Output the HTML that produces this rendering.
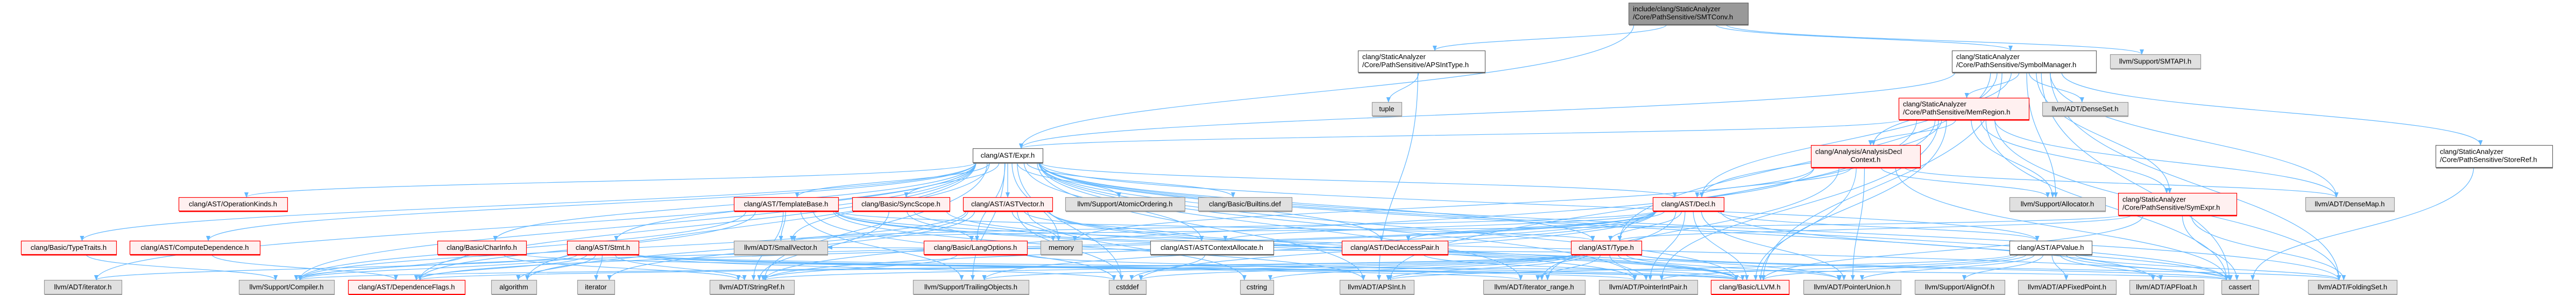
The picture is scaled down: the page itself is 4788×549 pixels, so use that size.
<!DOCTYPE html>
<html><head><meta charset="utf-8"><style>
html,body{margin:0;padding:0;background:#fff;width:4788px;height:549px;overflow:hidden}
svg text{font-family:"Liberation Sans",sans-serif;font-size:13px;fill:#000}
</style></head><body>
<svg id="g" width="4788" height="549" viewBox="0 0 4788 549" xmlns="http://www.w3.org/2000/svg">
<defs><marker id="a" markerWidth="10" markerHeight="8" refX="9" refY="4" orient="auto" markerUnits="userSpaceOnUse"><path d="M0,0 L10,4 L0,8 z" fill="#63b8ff"/></marker></defs>
<g id="edges" fill="none" stroke="#63b8ff" stroke-width="1.2"></g>
<g id="nodes"></g>
</svg>
<script>
var N={
main:[3027,5,3249,45,"d",["include/clang/StaticAnalyzer","/Core/PathSensitive/SMTConv.h"]],
apsT:[2524,94,2760,134,"w",["clang/StaticAnalyzer","/Core/PathSensitive/APSIntType.h"]],
symM:[3628,94,3896,134,"w",["clang/StaticAnalyzer","/Core/PathSensitive/SymbolManager.h"]],
smt:[3922,101,4090,127,"g",["llvm/Support/SMTAPI.h"]],
tuple:[2550,190,2605,215,"g",["tuple"]],
mem:[3529,182,3771,222,"r",["clang/StaticAnalyzer","/Core/PathSensitive/MemRegion.h"]],
dset:[3796,190,3955,215,"g",["llvm/ADT/DenseSet.h"]],
expr:[1808,276,1938,302,"w",["clang/AST/Expr.h"]],
adc:[3366,270,3569,311,"r",["clang/Analysis/AnalysisDecl","Context.h"],1],
store:[4527,270,4744,311,"w",["clang/StaticAnalyzer","/Core/PathSensitive/StoreRef.h"]],
opk:[332,367,534,392,"r",["clang/AST/OperationKinds.h"]],
tb:[1364,367,1558,392,"r",["clang/AST/TemplateBase.h"]],
sync:[1584,367,1765,392,"r",["clang/Basic/SyncScope.h"]],
astv:[1790,367,1956,392,"r",["clang/AST/ASTVector.h"]],
atom:[1980,367,2202,392,"g",["llvm/Support/AtomicOrdering.h"]],
blt:[2227,367,2401,392,"g",["clang/Basic/Builtins.def"]],
decl:[3072,367,3204,392,"r",["clang/AST/Decl.h"]],
alloc:[3735,367,3913,392,"g",["llvm/Support/Allocator.h"]],
syme:[3937,359,4157,400,"r",["clang/StaticAnalyzer","/Core/PathSensitive/SymExpr.h"]],
dmap:[4285,367,4450,392,"g",["llvm/ADT/DenseMap.h"]],
tt:[39,448,216,473,"r",["clang/Basic/TypeTraits.h"]],
cd:[241,448,483,473,"r",["clang/AST/ComputeDependence.h"]],
ci:[813,448,978,473,"r",["clang/Basic/CharInfo.h"]],
stmt:[1054,448,1187,473,"r",["clang/AST/Stmt.h"]],
sv:[1364,448,1538,473,"g",["llvm/ADT/SmallVector.h"]],
lo:[1717,448,1909,473,"r",["clang/Basic/LangOptions.h"]],
memory:[1934,448,2011,473,"g",["memory"]],
aca:[2138,448,2367,473,"w",["clang/AST/ASTContextAllocate.h"]],
dap:[2494,448,2691,473,"r",["clang/AST/DeclAccessPair.h"]],
type:[2920,448,3051,473,"r",["clang/AST/Type.h"]],
apv:[3735,448,3888,473,"w",["clang/AST/APValue.h"]],
itr:[82,521,226,547,"g",["llvm/ADT/iterator.h"]],
comp:[444,521,621,547,"g",["llvm/Support/Compiler.h"]],
df:[647,521,864,547,"r",["clang/AST/DependenceFlags.h"]],
algo:[913,521,997,547,"g",["algorithm"]],
iter:[1073,521,1142,547,"g",["iterator"]],
sref:[1319,521,1476,547,"g",["llvm/ADT/StringRef.h"]],
trail:[1697,521,1912,547,"g",["llvm/Support/TrailingObjects.h"]],
cstddef:[2061,521,2130,547,"g",["cstddef"]],
cstring:[2305,521,2367,547,"g",["cstring"]],
apsint:[2490,521,2628,547,"g",["llvm/ADT/APSInt.h"]],
irange:[2757,521,2946,547,"g",["llvm/ADT/iterator_range.h"]],
pip:[2972,521,3155,547,"g",["llvm/ADT/PointerIntPair.h"]],
llvm:[3180,521,3325,547,"r",["clang/Basic/LLVM.h"]],
pu:[3352,521,3533,547,"g",["llvm/ADT/PointerUnion.h"]],
align:[3559,521,3726,547,"g",["llvm/Support/AlignOf.h"]],
afp:[3751,521,3933,547,"g",["llvm/ADT/APFixedPoint.h"]],
apf:[3958,521,4096,547,"g",["llvm/ADT/APFloat.h"]],
cassert:[4129,521,4198,547,"g",["cassert"]],
fs:[4290,521,4455,547,"g",["llvm/ADT/FoldingSet.h"]]
};
var E={
main:"expr apsT symM smt",
apsT:"tuple apsint",
symM:"mem dset adc store alloc syme dmap expr type decl llvm fs cassert",
mem:"adc expr decl type alloc syme dmap llvm fs cassert pip apsint",
adc:"decl alloc dmap llvm cassert memory pu irange sref",
store:"cassert",
syme:"type llvm cassert fs sv",
expr:"opk tt cd ci stmt tb sync astv atom blt decl type apv dap lo itr comp df algo sref sv trail apsint apf llvm memory cstddef aca irange pip fs cassert",
tb:"comp df sv sref type llvm apsint pu trail cassert cstddef",
sync:"lo memory sref llvm",
astv:"memory cstddef cstring aca llvm pip comp algo iter",
decl:"type dap apv llvm aca trail comp sref sv irange pip pu cassert cstddef df",
type:"llvm pip pu irange apsint fs cassert cstddef cstring comp df sref sv trail",
apv:"llvm afp apf apsint fs pip pu align cassert",
stmt:"comp df algo iter sref irange pip cassert cstddef llvm itr",
ci:"comp sref llvm",
tt:"comp",
cd:"df",
lo:"llvm sref",
aca:"cstddef",
dap:"llvm"
};
var NS="http://www.w3.org/2000/svg";
var ng=document.getElementById("nodes"),eg=document.getElementById("edges");
var st={d:["#999999","#666666"],w:["#ffffff","#666666"],g:["#e0e0e0","#999999"],r:["#fff0f0","#ff0000"]};
function cx(n){return (n[0]+n[2])/2}
for(var s in E){var S=N[s];E[s].split(" ").forEach(function(t,i){var T=N[t];
 var sx,sy,tx,ty,d;
 if(T[1]>S[3]-2){
  sx=cx(S)+(cx(T)-cx(S))*0.08; sx=Math.max(S[0]+6,Math.min(S[2]-6,sx)); sy=S[3];
  tx=cx(T)+Math.max(-25,Math.min(25,(cx(S)-cx(T))*0.05)); ty=T[1];
  var dy=ty-sy;
  d="M"+sx+","+sy+" C"+sx+","+(sy+dy*0.55)+" "+tx+","+(ty-dy*0.45)+" "+tx+","+ty;
 } else {
  sy=S[3]-4; ty=(T[1]+T[3])/2;
  if(cx(T)<cx(S)){sx=S[0];tx=T[2];}else{sx=S[2];tx=T[0];}
  d="M"+sx+","+sy+" C"+((sx+tx)/2)+","+sy+" "+((sx+tx)/2)+","+ty+" "+tx+","+ty;
 }
 var p=document.createElementNS(NS,"path");p.setAttribute("d",d);p.setAttribute("marker-end","url(#a)");eg.appendChild(p);
});}
for(var k in N){var n=N[k],c=st[n[4]];
 var r=document.createElementNS(NS,"rect");r.setAttribute("x",n[0]+.5);r.setAttribute("y",n[1]+.5);r.setAttribute("width",n[2]-n[0]);r.setAttribute("height",n[3]-n[1]);
 r.setAttribute("fill",c[0]);r.setAttribute("stroke",c[1]);r.setAttribute("stroke-width","1.2");ng.appendChild(r);
 var sh=document.createElementNS(NS,"line");sh.setAttribute("x1",n[0]+1);sh.setAttribute("x2",n[2]+1);sh.setAttribute("y1",n[3]+1.5);sh.setAttribute("y2",n[3]+1.5);sh.setAttribute("stroke",c[1]);sh.setAttribute("stroke-width","2");ng.appendChild(sh);
 var L=n[5];
 for(var j=0;j<L.length;j++){var tx=document.createElementNS(NS,"text");
  var center=(L.length==1)||n[6]&&j==1;
  if(n[6]&&j==0)center=false;
  if(L.length==1||(n[6]&&j==1)){tx.setAttribute("x",cx(n));tx.setAttribute("text-anchor","middle");}
  else tx.setAttribute("x",n[0]+8);
  var h=n[3]-n[1];
  tx.setAttribute("y",L.length==1?(n[1]+h/2+4.5):(n[1]+h/2-4+j*15));
  tx.textContent=L[j];ng.appendChild(tx);}
}
</script>
</body></html>
